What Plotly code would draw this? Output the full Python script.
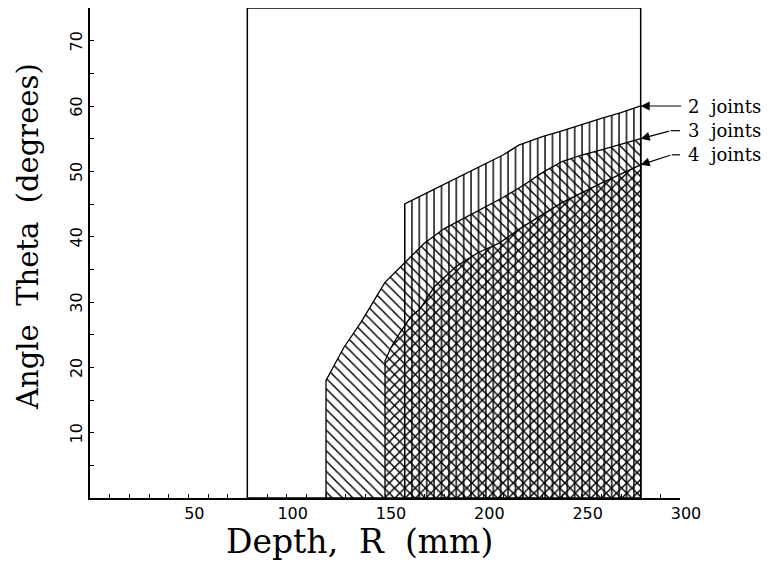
import plotly.graph_objects as go

# ---- data ----
depth_2 = [160, 170, 180, 190, 200, 210, 218, 230, 240, 250, 260, 270, 280]
theta_2 = [45, 46.5, 48, 49.5, 51, 52.5, 54, 55.3, 56.2, 57.2, 58.1, 59, 60]

depth_3 = [120, 129, 138, 147, 150, 160, 170, 180, 190, 200, 210, 220, 230, 240, 250, 260, 270, 280]
theta_3 = [18, 23, 27, 31.5, 33, 36, 39, 41.2, 42.8, 44.5, 46, 47.8, 49.8, 51.5, 52.5, 53.3, 54.2, 55]

depth_4 = [150, 153, 157, 163, 168, 175, 186, 197, 208, 220, 240, 260, 280]
theta_4 = [21, 23, 25, 27.7, 29, 32.3, 35.4, 37.5, 39, 41.5, 45.2, 48.2, 51]

series_labels = ["2  joints", "3  joints", "4  joints"]
x_tick_vals = [50, 100, 150, 200, 250, 300]
y_tick_vals = [10, 20, 30, 40, 50, 60, 70]
frame_depth = [80, 280]
x_range = [0, 300]
y_range = [0, 75]

# ---- styles ----
patterns = [("|", 7.4, 0.19), ("\\", 7.3, 0.2), ("/", 7.3, 0.2)]
# arrow tail (bend) offsets in pixels
arrow_offsets = [(42, 0), (30, -8), (31, -10)]
label_x_px = 45

fig = go.Figure()

all_series = [(depth_2, theta_2), (depth_3, theta_3), (depth_4, theta_4)]
for (r, t), (shape, size, sol) in zip(all_series, patterns):
    xs = [r[0]] + list(r) + [r[-1]]
    ys = [0] + list(t) + [0]
    fig.add_trace(go.Scatter(
        x=xs, y=ys, mode="lines", fill="toself",
        fillcolor="rgba(0,0,0,0)",
        fillpattern=dict(shape=shape, size=size, solidity=sol,
                         fgcolor="black", bgcolor="rgba(0,0,0,0)",
                         fillmode="replace"),
        line=dict(color="black", width=1.3),
        hoverinfo="skip", showlegend=False,
    ))

# frame rectangle
fig.add_shape(type="rect", xref="x", yref="y",
              x0=frame_depth[0], x1=frame_depth[1], y0=y_range[0], y1=y_range[1],
              line=dict(color="black", width=1.5), layer="above")

annotations = []
for (r, t), lab, (ax, ay) in zip(all_series, series_labels, arrow_offsets):
    xe, ye = r[-1], t[-1]
    annotations.append(dict(
        x=xe, y=ye, xref="x", yref="y", text="", showarrow=True,
        ax=ax, ay=ay, axref="pixel", ayref="pixel",
        arrowhead=2, arrowsize=1.5, arrowwidth=1.2, arrowcolor="black",
    ))
    if ax < 42:
        fig.add_shape(type="line", xref="x", yref="y",
                      xsizemode="pixel", ysizemode="pixel",
                      xanchor=xe, yanchor=ye,
                      x0=ax, x1=42, y0=-ay, y1=-ay,
                      line=dict(color="black", width=1.2), layer="above")
    annotations.append(dict(
        x=xe, y=ye, xref="x", yref="y", text=lab, showarrow=False,
        xanchor="left", yanchor="middle", xshift=label_x_px, yshift=-ay,
        font=dict(family="DejaVu Serif", size=18, color="black"),
    ))

# axis titles
annotations.append(dict(
    x=0.4576, y=-0.089, xref="paper", yref="paper", text="Depth,  R  (mm)",
    showarrow=False, xanchor="center", yanchor="middle",
    font=dict(family="DejaVu Serif", size=33, color="black"),
))
annotations.append(dict(
    x=-0.105, y=0.533, xref="paper", yref="paper", text="Angle  Theta  (degrees)",
    showarrow=False, xanchor="center", yanchor="middle", textangle=-90,
    font=dict(family="DejaVu Serif", size=29, color="black"),
))

fig.update_layout(
    width=773, height=565,
    margin=dict(l=90, r=93, t=8, b=67),
    plot_bgcolor="white", paper_bgcolor="white",
    showlegend=False, annotations=annotations,
)

tickfont = dict(family="DejaVu Sans", size=16, color="black")
fig.update_xaxes(
    range=x_range, tickvals=x_tick_vals, ticks="inside", ticklen=4,
    tickcolor="black", tickwidth=1, showline=True, linecolor="black",
    linewidth=1.5, showgrid=False, zeroline=False, tickfont=tickfont,
    ticklabelshift=6,
    minor=dict(dtick=10, tick0=0, ticks="inside", ticklen=4,
               tickcolor="black", showgrid=False),
)
fig.update_yaxes(
    range=y_range, tickvals=y_tick_vals, ticks="inside", ticklen=4,
    tickcolor="black", tickwidth=1, showline=True, linecolor="black",
    linewidth=1.5, showgrid=False, zeroline=False, tickfont=tickfont,
    tickangle=-90, ticklabelshift=3,
    minor=dict(dtick=5, tick0=0, ticks="inside", ticklen=4,
               tickcolor="black", showgrid=False),
)

fig.write_html("out.html", config={"displayModeBar": False},
               post_script="document.body.style.margin='0';document.body.style.overflow='hidden';")
